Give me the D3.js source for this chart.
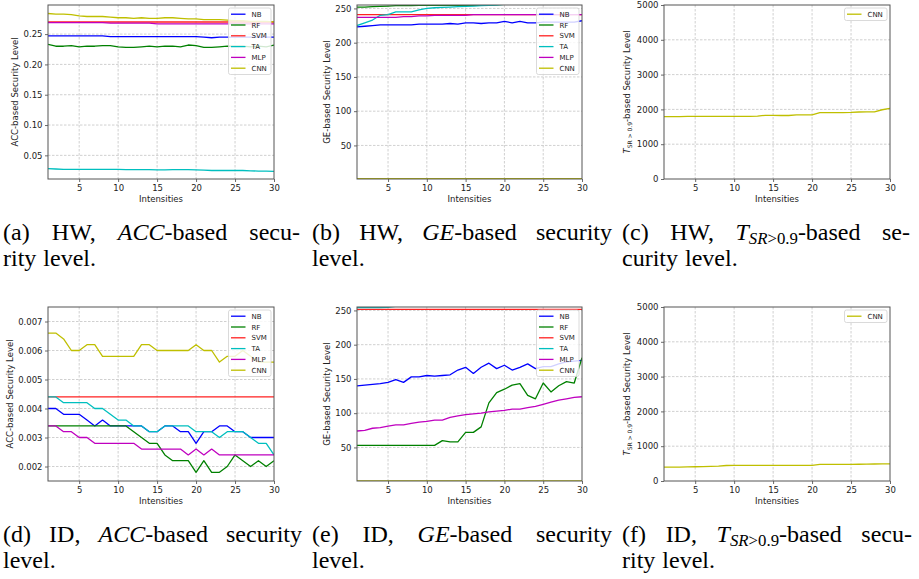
<!DOCTYPE html>
<html><head><meta charset="utf-8">
<script src="https://cdn.jsdelivr.net/npm/d3@7"></script>
<style>
html,body{margin:0;padding:0;background:#fff;}
svg{display:block;}
</style>
</head><body>
<svg id="fig" width="919" height="579"></svg>
<script>
// ---------------- DATA ----------------
const intensities = [1,2,3,4,5,6,7,8,9,10,11,12,13,14,15,16,17,18,19,20,21,22,23,24,25,26,27,28,29,30];
const seriesNames = ["NB","RF","SVM","TA","MLP","CNN"];
const xTicks = [5,10,15,20,25,30];

// (a) HW, ACC-based
const accHW_NB  = [0.247,0.247,0.247,0.247,0.247,0.247,0.247,0.247,0.246,0.246,0.246,0.246,0.246,0.246,0.246,0.246,0.246,0.246,0.246,0.246,0.245,0.244,0.245,0.245,0.245,0.245,0.245,0.245,0.245,0.245];
const accHW_RF  = [0.233,0.230,0.230,0.231,0.229,0.230,0.230,0.231,0.231,0.229,0.228,0.228,0.229,0.230,0.229,0.230,0.230,0.229,0.232,0.231,0.228,0.228,0.229,0.230,0.230,0.230,0.229,0.230,0.229,0.232];
const accHW_SVM = [0.270,0.270,0.270,0.270,0.270,0.270,0.270,0.270,0.270,0.270,0.270,0.270,0.270,0.270,0.270,0.270,0.270,0.270,0.270,0.270,0.270,0.270,0.270,0.270,0.270,0.270,0.270,0.270,0.270,0.270];
const accHW_TA  = [0.028,0.0275,0.027,0.027,0.027,0.027,0.027,0.027,0.027,0.027,0.0265,0.0265,0.0265,0.0265,0.026,0.026,0.0265,0.0265,0.0265,0.026,0.0255,0.025,0.025,0.025,0.025,0.025,0.0245,0.024,0.024,0.0235];
const accHW_MLP = [0.269,0.269,0.269,0.269,0.269,0.269,0.269,0.269,0.268,0.268,0.268,0.268,0.268,0.268,0.267,0.267,0.267,0.267,0.267,0.267,0.267,0.267,0.267,0.267,0.267,0.267,0.267,0.267,0.267,0.267];
const accHW_CNN = [0.284,0.283,0.283,0.282,0.280,0.279,0.279,0.279,0.278,0.277,0.277,0.276,0.277,0.276,0.276,0.277,0.277,0.276,0.275,0.275,0.274,0.274,0.274,0.273,0.272,0.272,0.271,0.271,0.271,0.270];
const yTicksAccHW = [0.05,0.10,0.15,0.20,0.25];

// (b) HW, GE-based
const geHW_NB  = [223,224,225,226,226,226,226,226,227,227,227,227,228,227,229,229,228,229,229,231,229,231,229,229,230,230,230,230,230,232];
const geHW_RF  = [252,252,252.5,253,253.5,254,254,254,254.5,254.5,254.5,254.5,254.5,254.5,254.5,254.5,254.5,255,255.5,256,256,256,256,256,256,256,256,256,256,256];
const geHW_SVM = [241,241,241,241,241,241,241,241,241,241,241,241,241,241,241,241,241,241,241,241,241,241,241,241,241,241,241,241,241,241];
const geHW_TA  = [225,229,233,240,241,245,245,245,248,250,251,251.5,252,252.5,253,253.5,254,254.5,255,256,256,256,256,256,256,256,256,256,256,256];
const geHW_MLP = [237,237,237,237,237,237,238,238,239,239,240,240,240,240,240,241,241,241,241,241,241,241,241,241,241,241,241,241,241,241];
const geHW_CNN = [1.5,1.5,1.5,1.5,1.5,1.5,1.5,1.5,1.5,1.5,1.5,1.5,1.5,1.5,1.5,1.5,1.5,1.5,1.5,1.5,1.5,1.5,1.5,1.5,1.5,1.5,1.5,1.5,1.5,1.5];
const yTicksGE = [50,100,150,200,250];

// (c) HW, T_SR>0.9-based
const tsrHW_CNN = [1790,1795,1795,1800,1800,1800,1800,1800,1800,1800,1800,1800,1805,1830,1830,1825,1825,1840,1845,1845,1910,1910,1910,1910,1915,1925,1930,1930,1990,2030];
const yTicksTsr = [0,1000,2000,3000,4000,5000];

// (d) ID, ACC-based
const accID_NB  = [0.0040,0.0040,0.0038,0.0038,0.0038,0.0036,0.0034,0.0036,0.0034,0.0034,0.0034,0.0034,0.0034,0.0032,0.0032,0.0034,0.0034,0.0032,0.0032,0.0028,0.0032,0.0032,0.0034,0.0034,0.0032,0.0032,0.0030,0.0030,0.0030,0.0030];
const accID_RF  = [0.0034,0.0034,0.0034,0.0034,0.0034,0.0034,0.0034,0.0034,0.0034,0.0034,0.0034,0.0032,0.0030,0.0028,0.0028,0.0024,0.0022,0.0022,0.0022,0.0018,0.0022,0.0018,0.0018,0.0020,0.0024,0.0022,0.0020,0.0022,0.0020,0.0022];
const accID_SVM = [0.0044,0.0044,0.0044,0.0044,0.0044,0.0044,0.0044,0.0044,0.0044,0.0044,0.0044,0.0044,0.0044,0.0044,0.0044,0.0044,0.0044,0.0044,0.0044,0.0044,0.0044,0.0044,0.0044,0.0044,0.0044,0.0044,0.0044,0.0044,0.0044,0.0044];
const accID_TA  = [0.0044,0.0044,0.0042,0.0042,0.0042,0.0042,0.0040,0.0040,0.0038,0.0036,0.0036,0.0034,0.0034,0.0032,0.0032,0.0034,0.0034,0.0034,0.0034,0.0032,0.0032,0.0032,0.0030,0.0032,0.0032,0.0032,0.0030,0.0028,0.0028,0.0024];
const accID_MLP = [0.0034,0.0034,0.0032,0.0032,0.0030,0.0030,0.0028,0.0028,0.0028,0.0028,0.0028,0.0028,0.0026,0.0026,0.0026,0.0026,0.0026,0.0026,0.0024,0.0026,0.0024,0.0026,0.0024,0.0024,0.0024,0.0024,0.0024,0.0024,0.0024,0.0024];
const accID_CNN = [0.0066,0.0066,0.0064,0.0060,0.0060,0.0062,0.0062,0.0058,0.0058,0.0058,0.0058,0.0058,0.0062,0.0062,0.0060,0.0060,0.0060,0.0060,0.0060,0.0062,0.0060,0.0060,0.0056,0.0058,0.0058,0.0060,0.0058,0.0056,0.0056,0.0056];
const yTicksAccID = [0.002,0.003,0.004,0.005,0.006,0.007];

// (e) ID, GE-based
const geID_NB  = [140,141,142,143,145,149,145,153,153,155,154,155,156,163,167,158,167,173,165,170,163,167,172,165,168,168,172,175,176,177];
const geID_RF  = [53,53,53,53,53,53,53,53,53,53,53,60,58,58,72,72,80,115,130,135,141,143,126,121,144,131,140,146,144,181];
const geID_SVM = [251.5,251.5,251.5,251.5,251.5,251.5,251.5,251.5,251.5,251.5,251.5,251.5,251.5,251.5,251.5,251.5,251.5,251.5,251.5,251.5,251.5,251.5,251.5,251.5,251.5,251.5,251.5,251.5,251.5,251.5];
const geID_TA  = [254,254,254,254,254.5,256,256,256,256,256,256,256,256,256,256,256,256,256,256,256,256,256,256,256,256,256,256,256,256,256];
const geID_MLP = [74,75,78,79,81,83,83,85,87,88,90,90,94,96,98,99,100,102,103,104,106,106,108,110,113,116,119,121,123,124];
const geID_CNN = [1,1,1,1,1,1,1,1,1,1,1,1,1,1,1,1,1,1,1,1,1,1,1,1,1,1,1,1,1,1];

// (f) ID, T_SR>0.9-based
const tsrID_CNN = [400,400,400,405,410,415,420,425,445,450,450,450,450,450,450,450,450,450,450,450,480,480,480,480,480,482,485,488,490,490];

// ---------------- STYLE / LAYOUT ----------------
const colors = {NB:"#0000ff", RF:"#008000", SVM:"#ff2020", TA:"#00bfbf", MLP:"#bf00bf", CNN:"#bfbf00"};
const sansFont = "'DejaVu Sans', sans-serif";
const serifFont = "'Liberation Serif', 'DejaVu Serif', serif";

const panels = [
  {key:"a", left:48, right:274, top:5, bottom:179, domain:[0.011,0.298], ticks:yTicksAccHW, fmt:d3.format(".2f"),
   ylabel:"acc", ylx:15, names:seriesNames, data:[accHW_NB,accHW_RF,accHW_SVM,accHW_TA,accHW_MLP,accHW_CNN]},
  {key:"b", left:357, right:582, top:5, bottom:179, domain:[1,255], ticks:yTicksGE, fmt:d3.format("d"),
   ylabel:"ge", ylx:327, names:seriesNames, data:[geHW_NB,geHW_RF,geHW_SVM,geHW_TA,geHW_MLP,geHW_CNN]},
  {key:"c", left:664, right:890, top:5, bottom:179, domain:[0,5000], ticks:yTicksTsr, fmt:d3.format("d"),
   ylabel:"tsr", ylx:627, names:["CNN"], data:[tsrHW_CNN]},
  {key:"d", left:48, right:274, top:307, bottom:481, domain:[0.0015,0.0075], ticks:yTicksAccID, fmt:d3.format(".3f"),
   ylabel:"acc", ylx:10, names:seriesNames, data:[accID_NB,accID_RF,accID_SVM,accID_TA,accID_MLP,accID_CNN]},
  {key:"e", left:357, right:582, top:307, bottom:481, domain:[1,255], ticks:yTicksGE, fmt:d3.format("d"),
   ylabel:"ge", ylx:327, names:seriesNames, data:[geID_NB,geID_RF,geID_SVM,geID_TA,geID_MLP,geID_CNN]},
  {key:"f", left:664, right:890, top:307, bottom:481, domain:[0,5000], ticks:yTicksTsr, fmt:d3.format("d"),
   ylabel:"tsr", ylx:627, names:["CNN"], data:[tsrID_CNN]}
];

const svg = d3.select("#fig");
svg.append("rect").attr("width",919).attr("height",579).attr("fill","#fff");
const defs = svg.append("defs");

panels.forEach(p => {
  const x = d3.scaleLinear().domain([1,30]).range([p.left,p.right]);
  const y = d3.scaleLinear().domain(p.domain).range([p.bottom,p.top]);
  const g = svg.append("g");

  // grid
  g.append("g").selectAll("line").data(xTicks.filter(t => t < 30)).join("line")
    .attr("x1", d => x(d)).attr("x2", d => x(d)).attr("y1", p.top).attr("y2", p.bottom)
    .attr("stroke","#c4c4c4").attr("stroke-width",0.8).attr("stroke-dasharray","2.5,1.5");
  g.append("g").selectAll("line").data(p.ticks.filter(t => y(t) > p.top + 0.5 && y(t) < p.bottom - 0.5)).join("line")
    .attr("x1", p.left).attr("x2", p.right).attr("y1", d => y(d)).attr("y2", d => y(d))
    .attr("stroke","#c4c4c4").attr("stroke-width",0.8).attr("stroke-dasharray","2.5,1.5");

  // clip
  defs.append("clipPath").attr("id","clip-"+p.key).append("rect")
    .attr("x",p.left).attr("y",p.top).attr("width",p.right-p.left).attr("height",p.bottom-p.top);

  const line = d3.line().x((d,i) => x(intensities[i])).y(d => y(d));
  const lg = g.append("g").attr("clip-path","url(#clip-"+p.key+")");
  p.names.forEach((n,k) => {
    lg.append("path").attr("d", line(p.data[k])).attr("fill","none")
      .attr("stroke", colors[n]).attr("stroke-width",1.3).attr("stroke-linejoin","round");
  });

  // axes
  const ax = g.append("g").attr("transform",`translate(0,${p.bottom})`)
    .call(d3.axisBottom(x).tickValues(xTicks).tickSize(3).tickPadding(2.5));
  const ay = g.append("g").attr("transform",`translate(${p.left},0)`)
    .call(d3.axisLeft(y).tickValues(p.ticks).tickFormat(p.fmt).tickSize(3).tickPadding(2.5));
  [ax,ay].forEach(a => {
    a.select(".domain").remove();
    a.selectAll(".tick line").attr("stroke","#444").attr("stroke-width",0.8);
    a.selectAll(".tick text").attr("font-family",sansFont).attr("font-size",8.5).attr("fill","#222");
  });

  // spines
  g.append("rect").attr("x",p.left).attr("y",p.top).attr("width",p.right-p.left).attr("height",p.bottom-p.top)
    .attr("fill","none").attr("stroke","#555").attr("stroke-width",1);

  // x label
  g.append("text").attr("x",(p.left+p.right)/2).attr("y",p.bottom+23).attr("text-anchor","middle")
    .attr("font-family",sansFont).attr("font-size",8.5).attr("fill","#222").text("Intensities");

  // y label
  const yc = (p.top+p.bottom)/2;
  const yl = g.append("text").attr("transform",`translate(${p.ylx+3},${yc}) rotate(-90)`)
    .attr("text-anchor","middle").attr("font-family",sansFont).attr("font-size",8.5).attr("fill","#222");
  if (p.ylabel === "acc") yl.text("ACC-based Security Level");
  else if (p.ylabel === "ge") yl.text("GE-based Security Level");
  else {
    yl.append("tspan").attr("font-style","italic").text("T");
    yl.append("tspan").attr("font-size",6).attr("dy",2).text("SR > 0.9");
    yl.append("tspan").attr("dy",-2).text("-based Security Level");
  }

  // legend
  const lw = 42.5, rowH = 10.8;
  const lh = rowH*(p.names.length-1) + 12.5;
  const lx = p.right - 3 - lw, ly = p.top + 3;
  const leg = g.append("g");
  leg.append("rect").attr("x",lx).attr("y",ly).attr("width",lw).attr("height",lh).attr("rx",2)
    .attr("fill","#fff").attr("fill-opacity",0.82).attr("stroke","#d0d0d0").attr("stroke-width",0.8);
  p.names.forEach((n,k) => {
    const ry = ly + 6.2 + k*rowH;
    leg.append("line").attr("x1",lx+2.5).attr("x2",lx+17).attr("y1",ry).attr("y2",ry)
      .attr("stroke",colors[n]).attr("stroke-width",1.3);
    leg.append("text").attr("x",lx+23).attr("y",ry+2.5).attr("font-family",sansFont)
      .attr("font-size",7).attr("fill","#222").text(n);
  });
});

// ---------------- CAPTIONS ----------------
const capSize = 24;
function word(segs){ return segs; }
const captions = [
  {x0:3, x1:300, y:240, lines:[
    {justify:true, words:[[{t:"(a)"}],[{t:"HW,"}],[{t:"ACC",i:1},{t:"-based"}],[{t:"secu-"}]]},
    {justify:false, words:[[{t:"rity"}],[{t:"level."}]]}]},
  {x0:312, x1:612, y:240, lines:[
    {justify:true, words:[[{t:"(b)"}],[{t:"HW,"}],[{t:"GE",i:1},{t:"-based"}],[{t:"security"}]]},
    {justify:false, words:[[{t:"level."}]]}]},
  {x0:622, x1:910, y:240, lines:[
    {justify:true, words:[[{t:"(c)"}],[{t:"HW,"}],[{t:"T",i:1},{t:"SR",i:1,sub:1},{t:">0.9",sub:1},{t:"-based"}],[{t:"se-"}]]},
    {justify:false, words:[[{t:"curity"}],[{t:"level."}]]}]},
  {x0:3, x1:302, y:542, lines:[
    {justify:true, words:[[{t:"(d)"}],[{t:"ID,"}],[{t:"ACC",i:1},{t:"-based"}],[{t:"security"}]]},
    {justify:false, words:[[{t:"level."}]]}]},
  {x0:312, x1:612, y:542, lines:[
    {justify:true, words:[[{t:"(e)"}],[{t:"ID,"}],[{t:"GE",i:1},{t:"-based"}],[{t:"security"}]]},
    {justify:false, words:[[{t:"level."}]]}]},
  {x0:622, x1:912, y:542, lines:[
    {justify:true, words:[[{t:"(f)"}],[{t:"ID,"}],[{t:"T",i:1},{t:"SR",i:1,sub:1},{t:">0.9",sub:1},{t:"-based"}],[{t:"secu-"}]]},
    {justify:false, words:[[{t:"rity"}],[{t:"level."}]]}]}
];
const capG = svg.append("g").attr("font-family",serifFont).attr("font-size",capSize).attr("fill","#000");
captions.forEach(c => {
  c.lines.forEach((ln, li) => {
    const yy = c.y + li*26;
    const nodes = ln.words.map(w => {
      const t = capG.append("text").attr("y",yy);
      let inSub = false;
      w.forEach(s => {
        const ts = t.append("tspan").text(s.t);
        if (s.i) ts.attr("font-style","italic");
        if (s.sub) { ts.attr("font-size",capSize*0.7); if(!inSub){ ts.attr("dy",4); inSub=true; } }
        else if (inSub) { ts.attr("dy",-4); inSub=false; }
      });
      return {t, w: t.node().getComputedTextLength()};
    });
    const total = d3.sum(nodes, n => n.w);
    const gap = (ln.justify && nodes.length > 1) ? (c.x1 - c.x0 - total)/(nodes.length-1) : 7;
    let cx = c.x0;
    nodes.forEach(n => { n.t.attr("x", cx); cx += n.w + gap; });
  });
});
</script>
</body></html>
